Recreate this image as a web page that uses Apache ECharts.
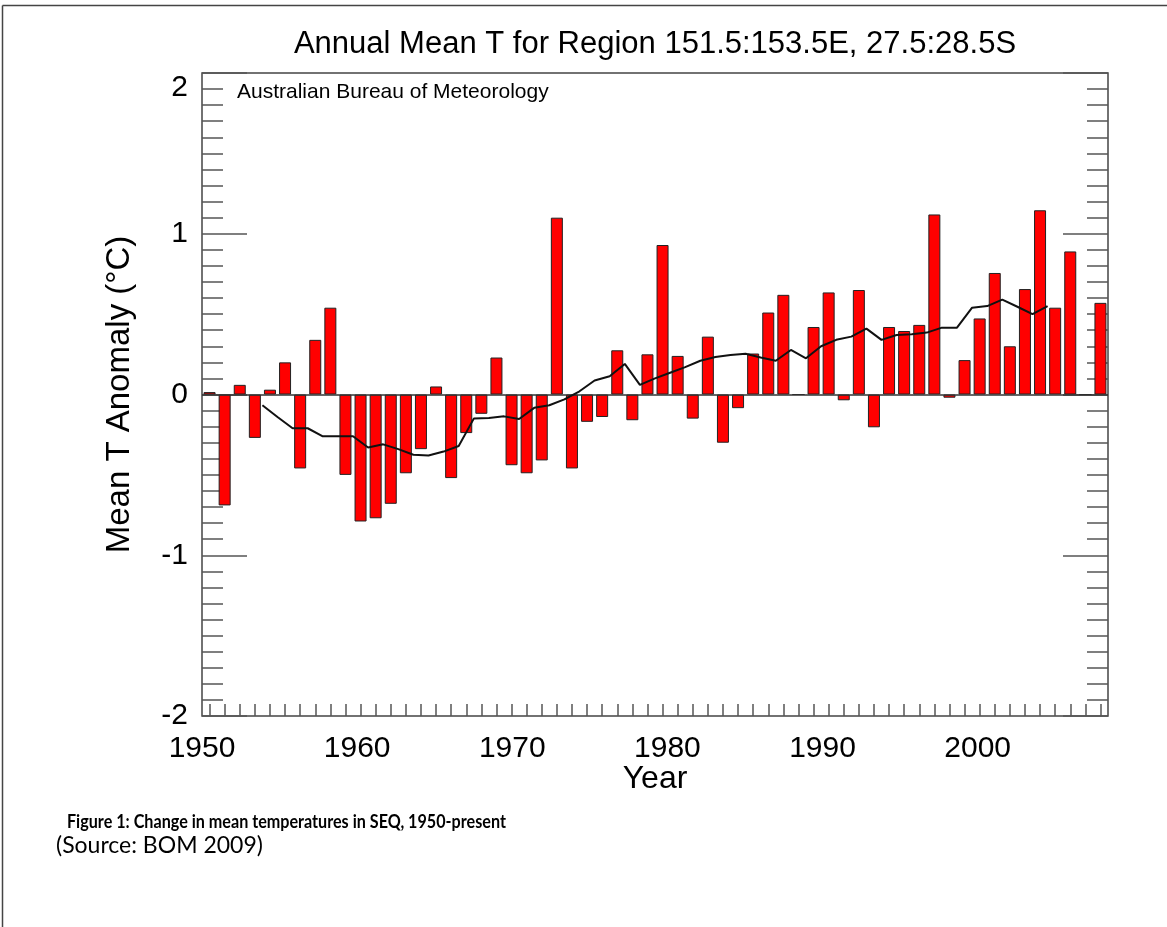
<!DOCTYPE html>
<html>
<head>
<meta charset="utf-8">
<script src="https://cdn.jsdelivr.net/npm/echarts@6/dist/echarts.min.js"></script>
<style>
html,body{margin:0;padding:0;background:#fff;}
#chart{width:1167px;height:927px;}
</style>
</head>
<body>
<div id="chart"></div>
<script>
// Years (one bar per year)
const years = [1950,1951,1952,1953,1954,1955,1956,1957,1958,1959,
               1960,1961,1962,1963,1964,1965,1966,1967,1968,1969,
               1970,1971,1972,1973,1974,1975,1976,1977,1978,1979,
               1980,1981,1982,1983,1984,1985,1986,1987,1988,1989,
               1990,1991,1992,1993,1994,1995,1996,1997,1998,1999,
               2000,2001,2002,2003,2004,2005,2006,2007,2008,2009];
// Annual mean temperature anomaly (°C)
const anomaly = [0.015,-0.69,0.06,-0.27,0.03,0.20,-0.46,0.34,0.54,-0.50,
                 -0.79,-0.77,-0.68,-0.49,-0.34,0.05,-0.52,-0.24,-0.12,0.23,
                 -0.44,-0.49,-0.41,1.10,-0.46,-0.17,-0.14,0.275,-0.16,0.25,
                 0.93,0.24,-0.15,0.36,-0.30,-0.085,0.255,0.51,0.62,0.0,
                 0.42,0.635,-0.036,0.65,-0.204,0.42,0.395,0.433,1.12,-0.02,
                 0.214,0.473,0.756,0.30,0.656,1.146,0.54,0.89,0.0,0.57];
// Smoothed (running mean) curve, at year boundaries
const trendYears = [1954,1955,1956,1957,1958,1959,1960,1961,1962,1963,
                    1964,1965,1966,1967,1968,1969,1970,1971,1972,1973,
                    1974,1975,1976,1977,1978,1979,1980,1981,1982,1983,
                    1984,1985,1986,1987,1988,1989,1990,1991,1992,1993,
                    1994,1995,1996,1997,1998,1999,2000,2001,2002,2003,
                    2004,2005,2006];
const trendValues = [-0.067,-0.14,-0.21,-0.21,-0.26,-0.26,-0.26,-0.33,-0.31,-0.34,
                     -0.375,-0.38,-0.355,-0.32,-0.15,-0.146,-0.136,-0.152,-0.083,-0.067,
                     -0.03,0.02,0.087,0.114,0.19,0.06,0.10,0.135,0.17,0.21,
                     0.233,0.246,0.254,0.23,0.21,0.277,0.225,0.30,0.34,0.36,
                     0.41,0.34,0.37,0.375,0.385,0.416,0.416,0.54,0.55,0.59,
                     0.546,0.50,0.55];
// Axis tick labels
const yearLabels = [1950,1960,1970,1980,1990,2000];
const yTicks = [-2,-1,0,1,2];

const titleText = 'Annual Mean T for Region 151.5:153.5E, 27.5:28.5S';
const sourceNote = 'Australian Bureau of Meteorology';
const captionBold = 'Figure 1: Change in mean temperatures in SEQ, 1950-present';
const captionSrc = '(Source: BOM 2009)';

const chart = echarts.init(document.getElementById('chart'), null, {renderer:'canvas'});
const FONT = '"Liberation Sans", Arial, Helvetica, sans-serif';
const tickColor = '#555';

const yAxisCommon = {
  type: 'value', min: yTicks[0], max: yTicks[yTicks.length-1], interval: 1,
  axisLine: {show: false, onZero: false},
  splitLine: {show: false},
  axisTick: {show: true, inside: true, length: 45, lineStyle: {color: tickColor, width: 1.5}},
  minorTick: {show: true, splitNumber: 10, length: 21, lineStyle: {color: tickColor, width: 1.5}},
  minorSplitLine: {show: false}
};

chart.setOption({
  animation: false,
  backgroundColor: '#fff',
  grid: {left: 202, top: 73, width: 906, height: 643, show: true, borderColor: '#444', borderWidth: 1.5, backgroundColor: 'transparent'},
  xAxis: [
    {
      type: 'category', data: years, position: 'bottom', boundaryGap: true,
      axisLine: {show: false, onZero: false},
      axisTick: {show: true, inside: true, alignWithLabel: true, interval: 0, length: 12, lineStyle: {color: tickColor, width: 1.5}},
      axisLabel: {show: false},
      splitLine: {show: false}
    },
    {
      type: 'value', position: 'bottom', min: yearLabels[0], max: 2008.4, interval: 10,
      axisLine: {show: false, onZero: false}, axisTick: {show: false}, splitLine: {show: false},
      axisLabel: {show: true, fontSize: 30, fontFamily: FONT, color: '#000', margin: 18,
        formatter: function (v) { return yearLabels.indexOf(v) >= 0 ? String(v) : ''; }},
      name: 'Year', nameLocation: 'middle', nameGap: 47, nameMoveOverlap: false,
      nameTextStyle: {fontSize: 32, fontFamily: FONT, color: '#000'}
    },
    {
      type: 'value', position: 'bottom', min: 1950, max: 2010, show: false,
      axisLine: {onZero: false}
    }
  ],
  yAxis: [
    Object.assign({}, yAxisCommon, {
      position: 'left',
      axisLabel: {show: true, fontSize: 30, fontFamily: FONT, color: '#000', margin: 14,
        verticalAlignMaxLabel: 'top'},
      name: 'Mean T Anomaly (°C)', nameLocation: 'middle', nameGap: 66,
      nameTextStyle: {fontSize: 33, fontFamily: FONT, color: '#000'}
    }),
    Object.assign({}, yAxisCommon, {
      position: 'right',
      axisLabel: {show: false}
    })
  ],
  series: [
    {
      type: 'bar', xAxisIndex: 0, yAxisIndex: 0,
      data: anomaly, barWidth: 12,
      itemStyle: {color: '#ff0000', borderColor: '#222', borderWidth: 1},
      markLine: {
        silent: true, symbol: 'none', label: {show: false},
        lineStyle: {color: '#333', width: 1.5, type: 'solid'},
        data: [{yAxis: 0}]
      }
    },
    {
      type: 'line', xAxisIndex: 2, yAxisIndex: 0,
      data: trendYears.map(function (y, i) { return [y, trendValues[i]]; }),
      showSymbol: false, symbol: 'none',
      lineStyle: {color: '#111', width: 2},
      z: 5
    }
  ],
  graphic: [
    {type: 'line', shape: {x1: 2.5, y1: 5.5, x2: 2.5, y2: 927}, style: {stroke: '#444', lineWidth: 1.5}},
    {type: 'line', shape: {x1: 2.5, y1: 5.5, x2: 1167, y2: 5.5}, style: {stroke: '#444', lineWidth: 1.5}},
    {type: 'text', x: 655, y: 44, style: {text: titleText, font: '31px ' + FONT, fill: '#000', align: 'center', verticalAlign: 'middle'}},
    {type: 'text', x: 237, y: 92, style: {text: sourceNote, font: '21px ' + FONT, fill: '#000', align: 'left', verticalAlign: 'middle'}},
    {type: 'text', x: 67, y: 822, scaleX: 0.85, style: {text: captionBold, font: 'bold 19px Lato, "Open Sans", sans-serif', fill: '#000', align: 'left', verticalAlign: 'middle'}},
    {type: 'text', x: 56, y: 846, style: {text: captionSrc, font: '23px Lato, "Open Sans", sans-serif', fill: '#000', align: 'left', verticalAlign: 'middle'}}
  ]
});
</script>
</body>
</html>
